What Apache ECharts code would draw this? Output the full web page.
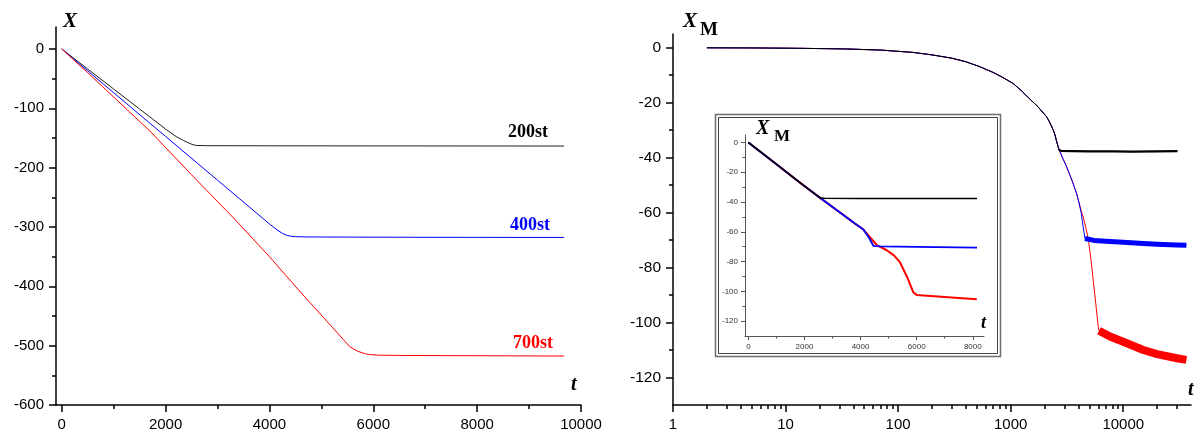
<!DOCTYPE html>
<html><head><meta charset="utf-8">
<script src="https://cdn.jsdelivr.net/npm/echarts@6/dist/echarts.min.js"></script>
<style>html,body{margin:0;padding:0;background:#fff}#c{width:1194px;height:432px}</style>
</head><body><div id="c"></div>
<script>
// ---------- Left panel: X(t), linear axes ----------
const L200_T = [0, 500, 1000, 1500, 2000, 2200, 2350, 2450, 2530, 2600, 2800, 4000, 6000, 8000, 9675];
const L200_X = [0, -33.8, -67.5, -101.2, -135, -147.5, -154.5, -158.7, -161.5, -162.6, -163, -163.2, -163.4, -163.5, -163.6];
const L400_T = [0, 1000, 2000, 3000, 4000, 4150, 4250, 4330, 4400, 4500, 4700, 6000, 8000, 9675];
const L400_X = [0, -73.7, -147.4, -221.1, -294.8, -305, -310.8, -313.9, -315.4, -316.3, -316.8, -317.2, -317.5, -317.6];
const L700_T = [0, 500, 1000, 1700, 2500, 3343, 4000, 4600, 5200, 5550, 5700, 5850, 5950, 6100, 6500, 8000, 9675];
const L700_X = [0, -40, -81, -138.5, -212, -288, -350, -410, -468, -502, -509.5, -513.8, -515.2, -516, -516.5, -517, -517.5];
const LEFT_X_TICKS = [0, 2000, 4000, 6000, 8000, 10000];
const LEFT_Y_TICKS = [-600, -500, -400, -300, -200, -100, 0];
const SERIES_NAMES = ['200st', '400st', '700st'];

// ---------- Right panel: X_M(t), log t ----------
const COMMON_T = [2, 5, 13, 35, 70, 136, 200, 300, 400, 532, 700, 850, 1052, 1250, 1500, 1750, 2086, 2200, 2387, 2470, 2550];
const COMMON_X = [-0.03, -0.07, -0.2, -0.45, -0.85, -1.7, -2.6, -3.8, -5.1, -6.9, -9.0, -10.8, -13.0, -15.7, -18.9, -21.5, -25.1, -26.8, -29.9, -31.6, -33.8];
const BLACK_T = [2680, 2800, 3500, 5000, 8000, 12000, 20000, 30300];
const BLACK_X = [-37.2, -37.5, -37.6, -37.7, -37.7, -37.8, -37.7, -37.6];
const BLUE_T = [2700, 2900, 3140, 3500, 3850, 4050, 4240, 4400, 4570, 4700, 5500, 7000, 10000, 15000, 20000, 30000, 36400];
const BLUE_X = [-37.2, -40.2, -43.3, -48.2, -53, -56.5, -60.3, -65, -69.4, -69.8, -70.1, -70.4, -70.8, -71.2, -71.5, -71.8, -71.9];
const RED_T = [2700, 2900, 3140, 3500, 3850, 4050, 4240, 4410, 4650, 4887, 5150, 5413, 5700, 5993, 6100, 7620, 10000, 15070, 20000, 30000, 36400];
const RED_X = [-37.2, -40.2, -43.3, -48.2, -53, -56.3, -59.5, -61.5, -65.5, -69.4, -76.5, -84.6, -93, -101.5, -103, -105.1, -107, -110, -111.5, -113, -113.6];
const LOG_MAJOR = [1, 10, 100, 1000, 10000];
const LOG_MINOR = [2,3,4,5,6,7,8,9, 20,30,40,50,60,70,80,90, 200,300,400,500,600,700,800,900,
                   2000,3000,4000,5000,6000,7000,8000,9000, 20000,30000];
const RIGHT_Y_TICKS = [-120, -100, -80, -60, -40, -20, 0];

// ---------- Inset: X_M(t), linear t ----------
const IN_COMMON_T = [0, 1000, 1838, 2400, 2555];
const IN_COMMON_X = [0, -14.6, -27.0, -35, -37.2];
const IN_BLACK_T = [2555, 2700, 4000, 6000, 8150];
const IN_BLACK_X = [-37.2, -37.5, -37.6, -37.6, -37.6];
const IN_BLUE_T = [2555, 3300, 3800, 4100, 4300, 4456, 4700, 6000, 8150];
const IN_BLUE_X = [-37.2, -47.5, -54.5, -58.5, -64, -69.4, -69.8, -70.2, -70.6];
const IN_RED_T = [2555, 3300, 3800, 4100, 4350, 4577, 4934, 5200, 5408, 5650, 5884, 6000, 7000, 8143];
const IN_RED_X = [-37.2, -47.5, -54.5, -58.5, -64, -68.9, -72.4, -76, -80.6, -90, -100.8, -102.4, -103.8, -105.3];
const IN_X_TICKS = [0, 2000, 4000, 6000, 8000];
const IN_Y_TICKS = [-120, -100, -80, -60, -40, -20, 0];

const zip = (t, x) => t.map((v, i) => [v, x[i]]);
const BLACK = '#000000', BLUE = '#0000ff', RED = '#ff0000';

function axisCommon(color, w, tickLen, minorLen, font, fsize, margin, ticks, labelColor) {
  return {
    axisLine: { show: true, onZero: false, lineStyle: { color: color, width: w } },
    axisTick: { show: true, inside: false, length: tickLen, lineStyle: { color: color, width: w }, customValues: ticks },
    minorTick: { show: true, splitNumber: 2, length: minorLen, lineStyle: { color: color, width: w } },
    axisLabel: { show: true, customValues: ticks, formatter: v => String(v), fontFamily: font, fontSize: fsize,
                 color: labelColor || '#000', margin: margin },
    splitLine: { show: false }, minorSplitLine: { show: false }
  };
}

function line(name, xi, yi, data, color, width, z) {
  return { type: 'line', name: name, xAxisIndex: xi, yAxisIndex: yi, data: data, showSymbol: false, symbol: 'none',
           lineStyle: { color: color, width: width, cap: 'butt', join: 'round' }, itemStyle: { color: color },
           z: z || 2, animation: false, silent: true };
}

const blackMain = zip(COMMON_T.concat(BLACK_T), COMMON_X.concat(BLACK_X));
const blueMain = zip(COMMON_T.concat(BLUE_T), COMMON_X.concat(BLUE_X));
const redMain = zip(COMMON_T.concat(RED_T), COMMON_X.concat(RED_X));

const option = {
  backgroundColor: '#ffffff',
  animation: false,
  grid: [
    { left: 56, top: 27, width: 525, height: 378, containLabel: false },
    { left: 673, top: 34, width: 518, height: 371, containLabel: false },
    { left: 745, top: 135, width: 239, height: 201, containLabel: false }
  ],
  xAxis: [
    Object.assign({ type: 'value', gridIndex: 0, position: 'bottom', min: -110, max: 10000, splitNumber: 5 },
      axisCommon('#000', 1.5, 7, 4, 'Liberation Sans', 15, 12, LEFT_X_TICKS)),
    Object.assign({ type: 'log', gridIndex: 1, position: 'bottom', min: 1, max: 40000, logBase: 10 },
      axisCommon('#000', 1.5, 7, 4, 'Liberation Sans', 15, 12, LOG_MAJOR), { minorTick: { show: false } }),
    { type: 'log', gridIndex: 1, position: 'bottom', min: 1, max: 40000, logBase: 10,
      axisLine: { show: false, onZero: false }, axisLabel: { show: false }, splitLine: { show: false },
      axisTick: { show: true, inside: false, length: 4, lineStyle: { color: '#000', width: 1.5 }, customValues: LOG_MINOR } },
    Object.assign({ type: 'value', gridIndex: 2, position: 'bottom', min: -120, max: 8400, splitNumber: 4 },
      axisCommon('#555', 1, 4, 2.5, 'Liberation Sans', 8, 7, IN_X_TICKS, '#333'))
  ],
  yAxis: [
    Object.assign({ type: 'value', gridIndex: 0, position: 'left', min: -600, max: 37, splitNumber: 6 },
      axisCommon('#000', 1.5, 7, 4, 'Liberation Sans', 15, 12, LEFT_Y_TICKS)),
    Object.assign({ type: 'value', gridIndex: 1, position: 'left', min: -130, max: 5, splitNumber: 7 },
      axisCommon('#000', 1.5, 7, 4, 'Liberation Sans', 15.5, 12, RIGHT_Y_TICKS)),
    Object.assign({ type: 'value', gridIndex: 2, position: 'left', min: -130, max: 5, splitNumber: 7 },
      axisCommon('#555', 1, 4, 2.5, 'Liberation Sans', 8, 7, IN_Y_TICKS, '#333'))
  ],
  series: [
    line(SERIES_NAMES[0], 0, 0, zip(L200_T, L200_X), '#222222', 1),
    line(SERIES_NAMES[1], 0, 0, zip(L400_T, L400_X), BLUE, 1),
    line(SERIES_NAMES[2], 0, 0, zip(L700_T, L700_X), RED, 1),

    line('700st-main', 1, 1, redMain, RED, 1, 2),
    line('700st-band', 1, 1, redMain.filter(p => p[0] >= 6100), RED, 8, 2),
    line('400st-main', 1, 1, blueMain, BLUE, 1, 3),
    line('400st-band', 1, 1, blueMain.filter(p => p[0] >= 4570), BLUE, 5, 3),
    line('200st-main', 1, 1, blackMain, BLACK, 1, 4),
    line('200st-band', 1, 1, blackMain.filter(p => p[0] >= 2680), BLACK, 2.2, 4),

    line('700st-inset', 3, 2, zip(IN_COMMON_T.concat(IN_RED_T), IN_COMMON_X.concat(IN_RED_X)), RED, 2, 2),
    line('400st-inset', 3, 2, zip(IN_COMMON_T.concat(IN_BLUE_T), IN_COMMON_X.concat(IN_BLUE_X)), BLUE, 1.8, 3),
    line('200st-inset', 3, 2, zip(IN_COMMON_T.concat(IN_BLACK_T), IN_COMMON_X.concat(IN_BLACK_X)), BLACK, 1.5, 4)
  ],
  graphic: [
    { type: 'rect', shape: { x: 715.5, y: 114.5, width: 285, height: 242 }, style: { fill: 'none', stroke: '#6e6e6e', lineWidth: 1.5 } },
    { type: 'rect', shape: { x: 718.5, y: 117.5, width: 279, height: 236 }, style: { fill: 'none', stroke: '#444', lineWidth: 1 } },

    { type: 'text', x: 63, y: 22, style: { text: 'X', font: 'italic bold 21px "Liberation Serif"', fill: '#000', align: 'left', verticalAlign: 'middle' } },
    { type: 'text', x: 571, y: 385, style: { text: 't', font: 'italic bold 20px "Liberation Serif"', fill: '#000', align: 'left', verticalAlign: 'middle' } },

    { type: 'text', x: 683, y: 22, style: { text: 'X', font: 'italic bold 21px "Liberation Serif"', fill: '#000', align: 'left', verticalAlign: 'middle' } },
    { type: 'text', x: 700, y: 30, style: { text: 'M', font: 'bold 19px "Liberation Serif"', fill: '#000', align: 'left', verticalAlign: 'middle' } },
    { type: 'text', x: 1188, y: 390, style: { text: 't', font: 'italic bold 20px "Liberation Serif"', fill: '#000', align: 'left', verticalAlign: 'middle' } },

    { type: 'text', x: 756, y: 129, style: { text: 'X', font: 'italic bold 20px "Liberation Serif"', fill: '#000', align: 'left', verticalAlign: 'middle' } },
    { type: 'text', x: 774, y: 136.5, style: { text: 'M', font: 'bold 17px "Liberation Serif"', fill: '#000', align: 'left', verticalAlign: 'middle' } },
    { type: 'text', x: 981, y: 323, style: { text: 't', font: 'italic bold 18px "Liberation Serif"', fill: '#000', align: 'left', verticalAlign: 'middle' } },

    { type: 'text', x: 548, y: 132, style: { text: SERIES_NAMES[0], font: 'bold 18px "Liberation Serif"', fill: '#000', align: 'right', verticalAlign: 'middle' } },
    { type: 'text', x: 550, y: 225, style: { text: SERIES_NAMES[1], font: 'bold 18px "Liberation Serif"', fill: BLUE, align: 'right', verticalAlign: 'middle' } },
    { type: 'text', x: 553, y: 343, style: { text: SERIES_NAMES[2], font: 'bold 18px "Liberation Serif"', fill: RED, align: 'right', verticalAlign: 'middle' } }
  ]
};
const chart = echarts.init(document.getElementById('c'), null, { renderer: 'canvas' });
chart.setOption(option);
</script>
</body></html>
